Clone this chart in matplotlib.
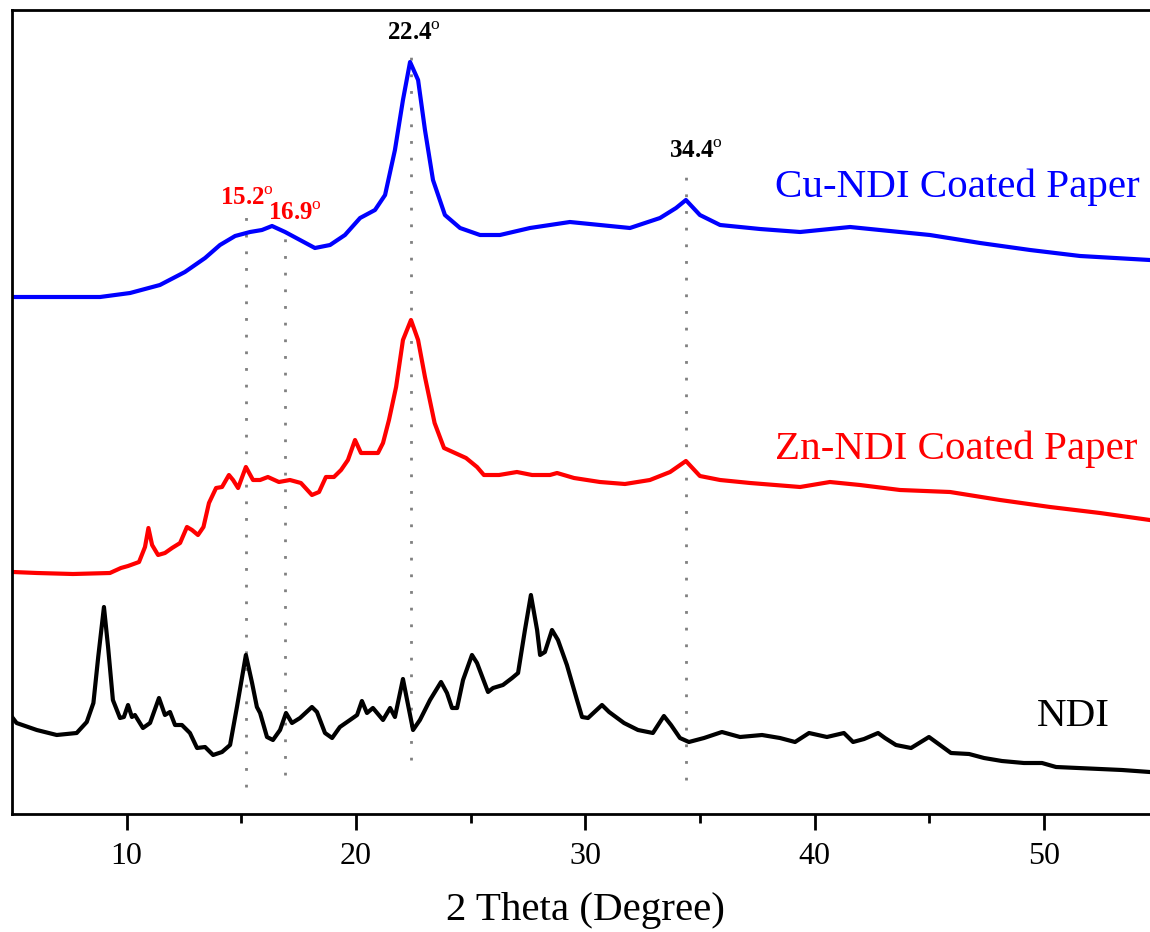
import numpy as np
import matplotlib.pyplot as plt

plt.rcParams['font.family'] = ['Liberation Serif', 'DejaVu Serif']
plt.rcParams['mathtext.fontset'] = 'custom'
plt.rcParams['mathtext.rm'] = 'Liberation Serif'
plt.rcParams['mathtext.bf'] = 'Liberation Serif:bold'

# traced XRD patterns (2 theta in degree, stacked intensity a.u.)
ndi_x = [5.0, 5.2, 6.08, 6.95, 7.82, 8.26, 8.55, 8.76, 9.01, 9.19, 9.40, 9.71, 9.88, 10.06,
         10.23, 10.36, 10.71, 11.02, 11.41, 11.67, 11.89, 12.11, 12.41, 12.76, 13.07, 13.42,
         13.77, 14.16, 14.51, 14.81, 15.20, 15.47, 15.68, 15.82, 16.12, 16.38, 16.69, 16.95,
         17.21, 17.56, 18.08, 18.30, 18.65, 18.96, 19.30, 19.74, 20.05, 20.26, 20.48, 20.74,
         21.18, 21.49, 21.70, 22.05, 22.23, 22.49, 22.79, 23.23, 23.71, 23.97, 24.19, 24.41,
         24.67, 25.06, 25.28, 25.76, 25.98, 26.41, 26.81, 27.07, 27.37, 27.63, 27.90, 28.03,
         28.24, 28.55, 28.81, 29.20, 29.64, 29.86, 30.12, 30.73, 31.04, 31.69, 32.30, 32.95,
         33.43, 33.74, 34.13, 34.52, 35.18, 35.96, 36.75, 37.71, 38.49, 39.15, 39.76, 40.54,
         41.28, 41.68, 42.16, 42.77, 43.07, 43.55, 44.21, 44.99, 45.47, 45.95, 46.74, 47.39,
         48.17, 49.13, 49.92, 50.53, 51.49, 52.45, 53.41, 54.62]
ndi_y = [97, 91, 84, 79, 81, 92, 111, 157, 207, 167, 114, 96, 97, 109,
         97, 99, 86, 91, 116, 99, 102, 89, 89, 81, 66, 67,
         59, 62, 69, 107, 159, 131, 107, 101, 77, 74, 84, 101,
         91, 96, 107, 102, 81, 76, 87, 94, 99, 113, 101, 106,
         94, 106, 97, 135, 114, 84, 94, 114, 132, 121, 106, 106,
         134, 159, 151, 122, 126, 129, 136, 141, 184, 219, 184, 159,
         162, 184, 174, 149, 114, 97, 96, 109, 102, 91, 84, 81,
         98, 89, 76, 72, 76, 82, 77, 79, 76, 72, 81, 77,
         81, 72, 75, 81, 76, 69, 66, 77, 69, 61, 60, 56,
         53, 51, 51, 47, 46, 45, 44, 42]

zn_x = [5.04, 6.09, 7.66, 9.27, 9.75, 10.06, 10.54, 10.80, 10.95, 11.11, 11.37, 11.67, 11.98,
        12.33, 12.63, 12.85, 13.11, 13.35, 13.59, 13.90, 14.16, 14.46, 14.64, 14.86, 15.20,
        15.51, 15.82, 16.16, 16.64, 17.12, 17.60, 18.08, 18.39, 18.69, 19.04, 19.35, 19.65,
        19.96, 20.22, 20.61, 20.96, 21.18, 21.44, 21.75, 22.05, 22.40, 22.71, 23.01, 23.43,
        23.84, 24.32, 24.80, 25.28, 25.58, 26.24, 27.02, 27.68, 28.46, 28.77, 29.51, 30.64,
        31.73, 32.82, 33.70, 34.39, 35.00, 35.88, 37.19, 39.37, 40.67, 41.98, 43.73, 45.91,
        48.09, 50.27, 52.45, 54.62]
zn_y = [242, 241, 240, 241, 246, 248, 252, 267, 286, 269, 259, 261, 266,
        271, 287, 284, 279, 287, 311, 326, 327, 339, 334, 326, 347,
        334, 334, 337, 332, 334, 331, 319, 322, 337, 337, 344, 354,
        374, 361, 361, 361, 371, 394, 427, 474, 494, 474, 437, 391,
        366, 361, 356, 347, 339, 339, 342, 339, 339, 341, 336, 332,
        330, 334, 342, 353, 338, 334, 331, 327, 332, 329, 324, 322,
        314, 307, 301, 294]

cu_x = [5.0, 8.84, 10.15, 11.45, 12.54, 13.42, 14.07, 14.73, 15.38, 15.90, 16.34, 16.91,
        17.56, 18.21, 18.87, 19.52, 20.18, 20.83, 21.27, 21.70, 22.05, 22.36, 22.71, 23.01,
        23.36, 23.88, 24.54, 25.41, 26.28, 27.59, 29.33, 30.64, 31.95, 33.26, 33.96, 34.39,
        35.00, 35.88, 37.62, 39.37, 41.55, 42.85, 45.03, 47.22, 49.40, 51.58, 54.62]
cu_y = [517, 517, 521, 529, 542, 556, 569, 578, 582, 584, 588, 582,
        574, 566, 569, 579, 596, 604, 619, 664, 714, 752, 734, 684,
        634, 599, 586, 579, 579, 586, 592, 589, 586, 596, 606, 614,
        599, 589, 585, 582, 587, 584, 579, 571, 564, 558, 554]

peak_pos = [15.2, 16.9, 22.4, 34.4]
peak_top = [602, 587, 766, 642]
peak_bottom = [27, 39, 54, 34]


def main():
    fig = plt.figure(figsize=(11.5, 9.32), dpi=100)
    ax = fig.add_axes([12 / 1150, 118 / 932, 1146.5 / 1150, 804 / 932])

    ax.vlines(peak_pos, peak_bottom, peak_top, colors='#808080', linestyles=(0, (1, 5)), linewidth=2)

    ax.plot(ndi_x, ndi_y, color='black', lw=3)
    ax.plot(zn_x, zn_y, color='red', lw=3)
    ax.plot(cu_x, cu_y, color='blue', lw=3)

    ax.text(38.27, 627, 'Cu-NDI Coated Paper', color='blue', fontsize=29.5, va='center', ha='left')
    ax.text(38.27, 365, 'Zn-NDI Coated Paper', color='red', fontsize=29.5, va='center', ha='left')
    ax.text(49.7, 97, 'NDI', color='black', fontsize=29.5, va='center', ha='left')

    ax.text(22.55, 774, r'$\mathbf{22.4}^{\mathrm{o}}$', fontsize=18, ha='center', va='baseline')
    ax.text(34.81, 656, r'$\mathbf{34.4}^{\mathrm{o}}$', fontsize=18, ha='center', va='baseline')
    ax.text(15.25, 609, r'$\mathbf{15.2}^{\mathrm{o}}$', fontsize=18, ha='center', va='baseline', color='red')
    ax.text(17.34, 594, r'$\mathbf{16.9}^{\mathrm{o}}$', fontsize=18, ha='center', va='baseline', color='red')

    ax.set_xlim(5, 55)
    ax.set_ylim(0, 804)
    ax.set_xticks([10, 20, 30, 40, 50])
    ax.set_xticks([15, 25, 35, 45], minor=True)
    ax.set_yticks([])
    ax.spines['right'].set_visible(False)
    for s in ['left', 'bottom', 'top']:
        ax.spines[s].set_linewidth(2)
    ax.tick_params(axis='x', which='major', direction='out', length=11.5, width=2, pad=9, labelsize=23)
    ax.tick_params(axis='x', which='minor', direction='out', length=6.5, width=2)
    ax.set_xlabel('2 Theta (Degree)', fontsize=29.5, labelpad=15)

    fig.savefig('out.png', dpi=100)
    plt.close(fig)


if __name__ == "__main__":
    main()
